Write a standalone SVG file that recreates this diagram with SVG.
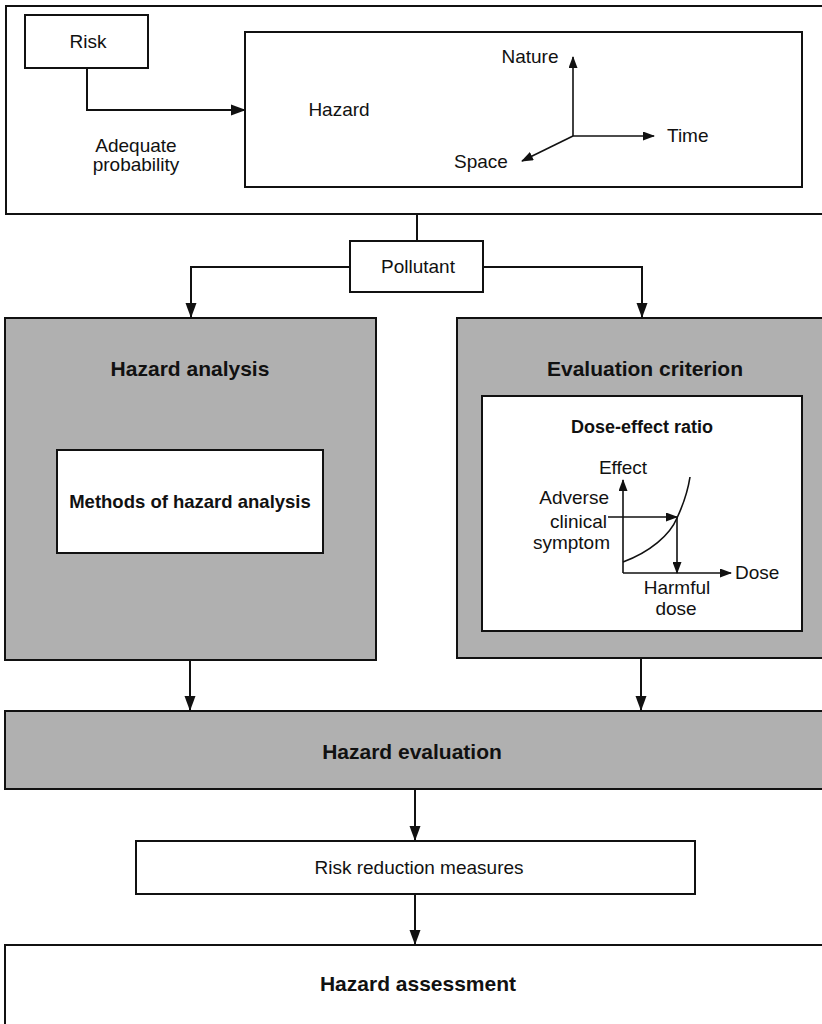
<svg xmlns="http://www.w3.org/2000/svg" width="822" height="1024" viewBox="0 0 822 1024">
  <style>
    .box { fill: #ffffff; stroke: #111111; stroke-width: 2; }
    .shade { fill: #b0b0b0; stroke: #111111; stroke-width: 2; }
    .line { fill: none; stroke: #111111; stroke-width: 2; }
    .thin { fill: none; stroke: #111111; stroke-width: 1.6; }
    .t { font-family: "Liberation Sans", Arial, sans-serif; font-size: 19px; fill: #111111; }
    .b { font-family: "Liberation Sans", Arial, sans-serif; font-size: 21px; font-weight: bold; fill: #111111; }
    .c { text-anchor: middle; }
  </style>
  <defs>
    <marker id="arrow" markerUnits="userSpaceOnUse" markerWidth="15" markerHeight="12" refX="14" refY="6" orient="auto">
      <path d="M0,0.5 L15,6 L0,11.5 Z" fill="#111111"/>
    </marker>
    <marker id="arrowSmall" markerUnits="userSpaceOnUse" markerWidth="12" markerHeight="9" refX="11" refY="4.5" orient="auto">
      <path d="M0,0 L12,4.5 L0,9 Z" fill="#111111"/>
    </marker>
  </defs>

  <!-- Risk / hazard frame -->
  <g id="frame-top">
    <rect class="box" x="6" y="6" width="830" height="208"/>
  </g>

  <g id="risk">
    <rect class="box" x="25" y="15" width="123" height="53"/>
    <text class="t c" x="88" y="48">Risk</text>
  </g>

  <g id="adequate-probability">
    <text class="t c" x="136" y="152">Adequate</text>
    <text class="t c" x="136" y="171">probability</text>
  </g>

  <g id="hazard">
    <rect class="box" x="245" y="32" width="557" height="155"/>
    <text class="t c" x="339" y="116">Hazard</text>
    <!-- dimension axes -->
    <line class="thin" x1="573" y1="136" x2="573" y2="57" marker-end="url(#arrowSmall)"/>
    <line class="thin" x1="573" y1="136" x2="654" y2="136" marker-end="url(#arrowSmall)"/>
    <line class="thin" x1="573" y1="136" x2="522" y2="161" marker-end="url(#arrowSmall)"/>
    <text class="t c" x="530" y="63">Nature</text>
    <text class="t" x="667" y="142">Time</text>
    <text class="t c" x="481" y="168">Space</text>
  </g>

  <g id="pollutant">
    <rect class="box" x="350" y="241" width="133" height="51"/>
    <text class="t c" x="418" y="273">Pollutant</text>
  </g>

  <g id="hazard-analysis">
    <rect class="shade" x="5" y="318" width="371" height="342"/>
    <text class="b c" x="190" y="376">Hazard analysis</text>
    <rect class="box" x="57" y="450" width="266" height="103"/>
    <text class="b c" x="190" y="508" style="font-size:18.5px">Methods of hazard analysis</text>
  </g>

  <g id="evaluation-criterion">
    <rect class="shade" x="457" y="318" width="380" height="340"/>
    <text class="b c" x="645" y="376">Evaluation criterion</text>
    <rect class="box" x="482" y="396" width="320" height="235"/>
    <text class="b c" x="642" y="433" style="font-size:18px">Dose-effect ratio</text>
    <!-- dose-effect chart -->
    <line class="thin" x1="623" y1="573" x2="623" y2="480" marker-end="url(#arrowSmall)"/>
    <line class="thin" x1="623" y1="573" x2="731" y2="573" marker-end="url(#arrowSmall)"/>
    <path class="thin" d="M623,562 C650,552 670,535 677,518 C684,503 688,490 690,477"/>
    <line class="thin" x1="608" y1="517" x2="677" y2="517" marker-end="url(#arrowSmall)"/>
    <line class="thin" x1="677" y1="518" x2="677" y2="573" marker-end="url(#arrowSmall)"/>
    <text class="t c" x="623" y="474">Effect</text>
    <text class="t" x="609" y="504" text-anchor="end">Adverse</text>
    <text class="t" x="607" y="528" text-anchor="end">clinical</text>
    <text class="t" x="610" y="549" text-anchor="end">symptom</text>
    <text class="t" x="735" y="579">Dose</text>
    <text class="t c" x="677" y="594">Harmful</text>
    <text class="t c" x="676" y="615">dose</text>
  </g>

  <g id="hazard-evaluation">
    <rect class="shade" x="5" y="711" width="831" height="78"/>
    <text class="b c" x="412" y="759">Hazard evaluation</text>
  </g>

  <g id="risk-reduction">
    <rect class="box" x="136" y="841" width="559" height="53"/>
    <text class="t c" x="419" y="874">Risk reduction measures</text>
  </g>

  <g id="hazard-assessment">
    <rect class="box" x="5" y="945" width="831" height="80"/>
    <text class="b c" x="418" y="991">Hazard assessment</text>
  </g>

  <!-- connectors -->
  <g id="connectors">
    <polyline class="line" points="87,68 87,110 245,110" marker-end="url(#arrow)"/>
    <line class="line" x1="417" y1="214" x2="417" y2="241"/>
    <polyline class="line" points="350,267 191,267 191,317" marker-end="url(#arrow)"/>
    <polyline class="line" points="483,267 642,267 642,317" marker-end="url(#arrow)"/>
    <line class="line" x1="190" y1="660" x2="190" y2="710" marker-end="url(#arrow)"/>
    <line class="line" x1="641" y1="658" x2="641" y2="710" marker-end="url(#arrow)"/>
    <line class="line" x1="415" y1="789" x2="415" y2="840" marker-end="url(#arrow)"/>
    <line class="line" x1="415" y1="894" x2="415" y2="944" marker-end="url(#arrow)"/>
  </g>
</svg>
